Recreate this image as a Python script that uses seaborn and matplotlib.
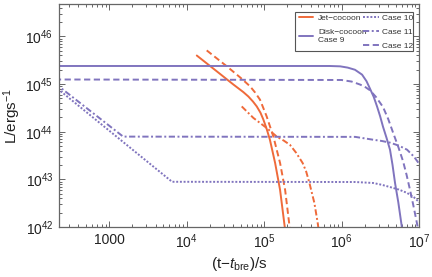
import numpy as np
import pandas as pd
import matplotlib
matplotlib.use("Agg")
import matplotlib.pyplot as plt
import matplotlib.ticker as mticker
from matplotlib.lines import Line2D
from matplotlib.patches import Rectangle
import seaborn as sns

# ------------------------------------------------------------
# Data (t - t_bre in s, L in erg/s)
# ------------------------------------------------------------
jet_solid_t = [1.355e4, 2.45e4, 4.02e4, 5.4e4, 6.27e4, 7.2e4, 8.05e4, 9.0e4, 9.8e4,
               1.08e5, 1.19e5, 1.39e5, 1.61e5, 1.87e5]
jet_solid_L = [3.98e45, 1.86e45, 9.8e44, 6.8e44, 5.5e44, 4.3e44, 3.4e44, 2.5e44, 1.8e44,
               1.15e44, 6.8e43, 2.2e43, 6.0e42, 8.7e41]

jet_dash_t = [1.82e4, 3.3e4, 5.0e4, 6.59e4, 7.7e4, 8.87e4, 1.08e5, 1.32e5, 1.61e5, 1.87e5, 2.16e5]
jet_dash_L = [5.1e45, 2.37e45, 1.35e45, 9.0e44, 6.6e44, 4.7e44, 2.1e44, 7.9e43, 2.2e43, 6.0e42, 8.7e41]

jet_dashdot_t = [5.15e4, 7.28e4, 1.08e5, 1.46e5, 1.8e5, 2.16e5, 2.6e5, 3.15e5, 3.5e5, 3.85e5,
                 4.46e5, 4.93e5, 5.1e5]
jet_dashdot_L = [3.4e44, 1.95e44, 1.2e44, 7.9e43, 6.5e43, 5.3e43, 3.6e43, 2.2e43, 1.45e43, 8.4e42,
                 3.2e42, 1.2e42, 8.0e41]

case9_t = [200, 7.0e5, 9.6e5, 1.2e6, 1.49e6, 1.84e6, 2.1e6, 2.33e6, 2.6e6, 2.87e6, 3.15e6,
           3.43e6, 3.8e6, 4.22e6, 4.55e6, 4.9e6, 5.4e6, 6.0e6, 6.3e6]
case9_L = [2.4e45, 2.4e45, 2.36e45, 2.22e45, 2.0e45, 1.58e45, 1.15e45, 8.0e44, 5.4e44, 3.4e44, 2.1e44,
           1.27e44, 7.5e43, 4.2e43, 2.0e43, 8.4e42, 3.3e42, 1.0e42, 6.0e41]

case10_t = [200, 6500, 1.5e6, 2.55e6, 3.3e6, 4.22e6, 5.5e6, 7.0e6, 8.6e6, 1.03e7]
case10_L = [8.9e44, 8.9e42, 8.8e42, 8.4e42, 7.7e42, 6.9e42, 6.1e42, 5.2e42, 4.2e42, 3.2e42]

case11_t = [200, 1520, 1.5e6, 2.55e6, 3.3e6, 4.22e6, 5.5e6, 7.0e6, 8.6e6, 1.03e7]
case11_L = [1.04e45, 7.9e43, 7.8e43, 6.8e43, 6.4e43, 5.9e43, 5.1e43, 4.2e43, 3.0e43, 2.0e43]

case12_t = [200, 1.0e6, 1.35e6, 1.73e6, 2.0e6, 2.33e6, 2.8e6, 3.43e6, 4.0e6, 4.62e6, 5.4e6,
            6.22e6, 6.9e6, 7.65e6, 8.5e6, 9.4e6, 1.0e7]
case12_L = [1.25e45, 1.22e45, 1.13e45, 9.8e44, 8.8e44, 7.4e44, 5.3e44, 3.3e44, 1.85e44, 9.6e43, 4.8e43,
            2.4e43, 1.25e43, 6.0e42, 2.7e42, 1.2e42, 7.0e41]

orange = "#EF6A3A"
purple = "#8074BE"

# ------------------------------------------------------------
# Style
# ------------------------------------------------------------
sns.set_style("ticks")
plt.rcParams['font.family'] = ['Liberation Sans', 'DejaVu Sans']
plt.rcParams['mathtext.fontset'] = 'custom'
plt.rcParams['mathtext.rm'] = 'Liberation Sans'
plt.rcParams['mathtext.it'] = 'Liberation Sans:italic'
plt.rcParams['mathtext.bf'] = 'Liberation Sans:bold'

fig = plt.figure(figsize=(4.32, 2.77), dpi=100)
ax = fig.add_axes([0.1366, 0.1805, 0.8334, 0.805])

lw = 1.4
ls_dash = (0, (3.2, 1.8))
ls_dashdot = (0, (3.2, 1.3, 1.0, 1.3))
ls_dot = (0, (1.0, 0.9))

curves = [
    (jet_solid_t, jet_solid_L, orange, "-"),
    (jet_dash_t, jet_dash_L, orange, ls_dash),
    (jet_dashdot_t, jet_dashdot_L, orange, ls_dashdot),
    (case9_t, case9_L, purple, "-"),
    (case10_t, case10_L, purple, ls_dot),
    (case11_t, case11_L, purple, ls_dashdot),
    (case12_t, case12_L, purple, ls_dash),
]
for t, L, c, ls in curves:
    df = pd.DataFrame({"t": t, "L": L})
    sns.lineplot(data=df, x="t", y="L", ax=ax, color=c, linestyle=ls,
                 linewidth=lw, sort=False, estimator=None)

ax.set_xscale("log")
ax.set_yscale("log")
ax.set_xlim(226, 1e7)
ax.set_ylim(1e42, 4.8e46)

# ticks: Mathematica-like frame with inward ticks on all sides
def xfmt(v, pos):
    n = int(round(np.log10(v)))
    if n == 3:
        return "1000"
    return r"$10^{%d}$" % n

def yfmt(v, pos):
    return r"$10^{%d}$" % int(round(np.log10(v)))

ax.xaxis.set_major_locator(mticker.LogLocator(base=10, numticks=20))
ax.xaxis.set_minor_locator(mticker.LogLocator(base=10, subs=np.arange(2, 10), numticks=20))
ax.yaxis.set_major_locator(mticker.LogLocator(base=10, numticks=20))
ax.yaxis.set_minor_locator(mticker.LogLocator(base=10, subs=np.arange(2, 10), numticks=20))
ax.xaxis.set_major_formatter(mticker.FuncFormatter(xfmt))
ax.yaxis.set_major_formatter(mticker.FuncFormatter(yfmt))
ax.xaxis.set_minor_formatter(mticker.NullFormatter())
ax.yaxis.set_minor_formatter(mticker.NullFormatter())

frame_col = "#666666"
ax.tick_params(which="both", direction="in", top=True, right=True,
               color=frame_col, labelsize=10, labelcolor="#222222", width=0.7)
ax.tick_params(which="major", length=4, pad=4)
ax.tick_params(which="minor", length=2)
for s in ax.spines.values():
    s.set_color(frame_col)
    s.set_linewidth(0.9)

ax.set_xlabel(r"(t−$\mathit{t}_{\mathrm{bre}}$)/s", fontsize=11, color="#222222", labelpad=3)
ax.set_ylabel(r"L/ergs$^{-1}$", fontsize=11, color="#222222", labelpad=2)

# ------------------------------------------------------------
# Legend: two columns inside one frame
# ------------------------------------------------------------
fs = 6.0
h_left = [Line2D([], [], color=orange, lw=lw),
          Line2D([], [], color=purple, lw=lw)]
l_left = ["Jet−cocoon", "Disk−cocoon\nCase 9"]
h_right = [Line2D([], [], color=purple, lw=lw, linestyle=ls_dot),
           Line2D([], [], color=purple, lw=lw, linestyle=ls_dashdot),
           Line2D([], [], color=purple, lw=lw, linestyle=ls_dash)]
l_right = ["Case 10", "Case 11", "Case 12"]

leg1 = ax.legend(h_left, l_left, loc="upper left", bbox_to_anchor=(0.666, 0.955),
                 frameon=False, fontsize=fs, handlelength=1.7, handletextpad=0.6,
                 labelspacing=0.8, borderpad=0, borderaxespad=0, labelcolor="#333333")
ax.add_artist(leg1)
leg2 = ax.legend(h_right, l_right, loc="upper left", bbox_to_anchor=(0.843, 0.955),
                 frameon=False, fontsize=fs, handlelength=2.0, handletextpad=0.3,
                 labelspacing=0.75, borderpad=0, borderaxespad=0, labelcolor="#333333")
ax.add_patch(Rectangle((0.656, 0.789), 0.327, 0.175, transform=ax.transAxes,
                       fill=True, facecolor="white", edgecolor="#555555", lw=0.8, zorder=4))
leg1.set_zorder(5)
leg2.set_zorder(5)

fig.savefig("out.png", dpi=100)
